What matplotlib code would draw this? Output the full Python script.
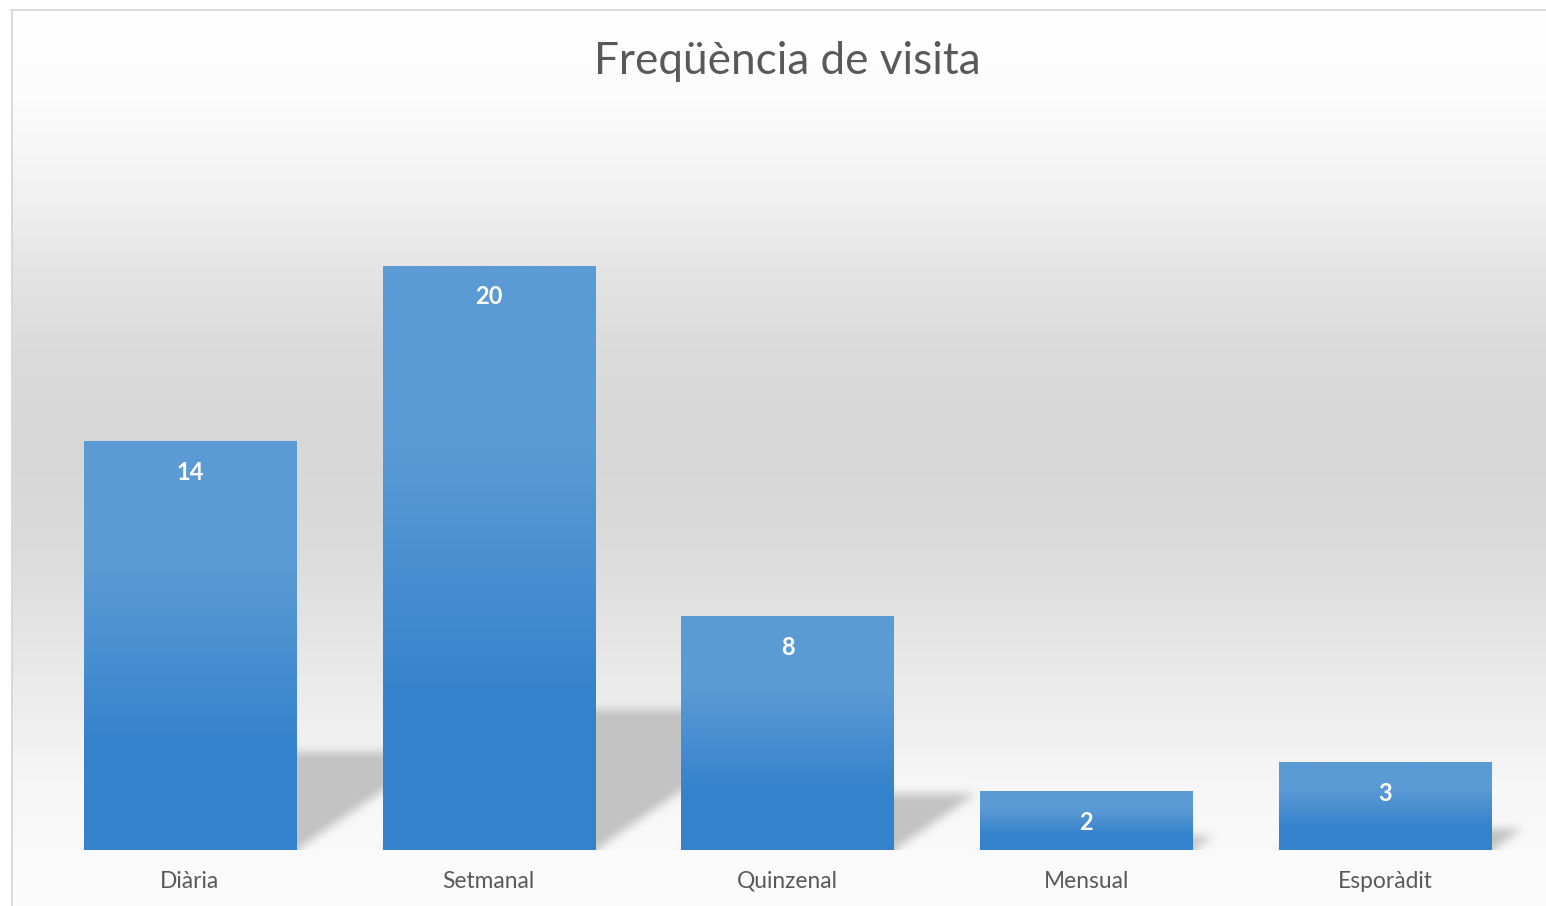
import numpy as np
import matplotlib
matplotlib.use("Agg")
import matplotlib.pyplot as plt
from matplotlib.lines import Line2D
from matplotlib.colors import to_rgb

categories = ["Diària", "Setmanal", "Quinzenal", "Mensual", "Esporàdit"]
values = [14, 20, 8, 2, 3]
title = "Freqüència de visita"

W, H, DPI = 1546, 906, 100
FONT = "Lato"
TXT = "#595959"
LIGHT = to_rgb("#5b9bd5")
DARK = to_rgb("#3482cc")

fig = plt.figure(figsize=(W / DPI, H / DPI), dpi=DPI)
fig.patch.set_facecolor("white")

# ---- chart-area background gradient (vertical, grey band in the middle)
bg_ax = fig.add_axes([11 / W, 0, 1 - 11 / W, 1 - 10 / H], zorder=0)
bg_ax.set_axis_off()
py = np.arange(10, H)
gy = [10, 100, 150, 200, 270, 350, 450, 550, 650, 720, 780, 850, 906]
gv = [255, 252, 247, 240, 228, 219, 215, 219, 231, 239, 246, 250, 252]
g = np.interp(py, gy, gv) / 255.0
bg = np.repeat(g[:, None, None], 3, axis=2)
bg_ax.imshow(bg, extent=(0, 1, 0, 1), aspect="auto", origin="upper",
             interpolation="bilinear")
bg_ax.set_xlim(0, 1)
bg_ax.set_ylim(0, 1)

# ---- chart-area border (left and top visible)
fig.add_artist(Line2D([11.5 / W, 11.5 / W], [0, 1 - 9.5 / H], color="#d9d9d9",
                      lw=1.4, transform=fig.transFigure, zorder=1))
fig.add_artist(Line2D([11 / W, 1], [1 - 9.5 / H, 1 - 9.5 / H], color="#d9d9d9",
                      lw=1.4, transform=fig.transFigure, zorder=1))

# ---- main axes
ax = fig.add_axes([40.6 / W, 56 / H, 1493.8 / W, 730 / H], zorder=2)
ax.patch.set_alpha(0)
for s in ax.spines.values():
    s.set_visible(False)

x = np.arange(len(categories))
rects = ax.bar(x, values, width=0.71, color="none", edgecolor="none", zorder=3)
XLIM = (-0.5, len(categories) - 0.5)
YLIM = (0, 25)
ax.set_xlim(*XLIM)
ax.set_ylim(*YLIM)
ax.set_yticks([])
ax.set_xticks(x)
ax.set_xticklabels(categories, fontsize=16.4, color=TXT, family=FONT)
ax.tick_params(axis="x", length=0, pad=15)

# ---- gradient fill for each bar
f = np.linspace(0, 1, 256)
w = np.clip((f - 0.3) / 0.45, 0, 1)
grad = np.array([[(1 - wi) * np.array(LIGHT) + wi * np.array(DARK)] for wi in w])
for r in rects:
    x0 = r.get_x()
    ax.imshow(grad, extent=(x0, x0 + r.get_width(), 0, r.get_height()),
              aspect="auto", origin="upper", zorder=3, interpolation="bilinear")
ax.set_xlim(*XLIM)
ax.set_ylim(*YLIM)

# ---- perspective shadows (derived from bar geometry)
fig.canvas.draw()
bb = ax.get_window_extent()
nx, ny = int(round(bb.width)), int(round(bb.height))
xs = bb.x0 + np.arange(nx) + 0.5
ys = bb.y0 + np.arange(ny) + 0.5
X, Y = np.meshgrid(xs, ys)
mask = np.zeros((ny, nx))
for r in rects:
    L, B = ax.transData.transform((r.get_x(), 0))
    R, T = ax.transData.transform((r.get_x() + r.get_width(), r.get_height()))
    hs = 0.24 * (T - B)
    t = Y - B
    m = (t >= 0) & (t <= hs) & (X >= L + 1.45 * t) & (X <= R + 1.45 * t)
    mask = np.maximum(mask, m.astype(float))


def box_blur(a, rad, axis):
    k = 2 * rad + 1
    pad = [(0, 0), (0, 0)]
    pad[axis] = (rad + 1, rad)
    p = np.pad(a, pad, mode="edge")
    c = np.cumsum(p, axis=axis)
    if axis == 0:
        return (c[k:] - c[:-k]) / k
    return (c[:, k:] - c[:, :-k]) / k


for _ in range(3):
    mask = box_blur(mask, 4, 0)
    mask = box_blur(mask, 4, 1)

sh = np.zeros((ny, nx, 4))
sh[..., :3] = 0.765
sh[..., 3] = np.clip(mask * 1.05, 0, 1)
ax.imshow(sh, extent=(*XLIM, *YLIM), origin="lower", aspect="auto",
          zorder=2, interpolation="nearest")
ax.set_xlim(*XLIM)
ax.set_ylim(*YLIM)

# ---- data labels
for r, v in zip(rects, values):
    ax.annotate(str(v), (r.get_x() + r.get_width() / 2, r.get_height()),
                xytext=(0, -31), textcoords="offset pixels", ha="center",
                va="center", color="white", fontsize=17, fontweight="bold",
                family=FONT, zorder=4)

# ---- title
fig.text(787.5 / W, 1 - 62 / H, title, ha="center", va="center",
         fontsize=31.8, color=TXT, family=FONT)

fig.savefig("out.png", dpi=DPI)
